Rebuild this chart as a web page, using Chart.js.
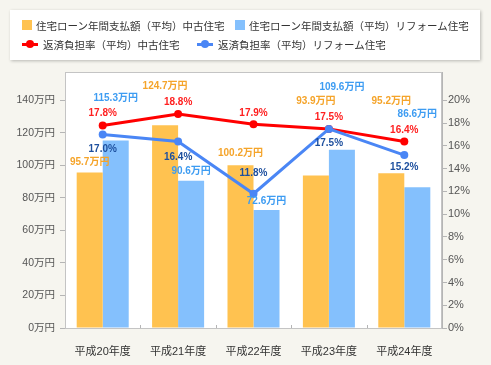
<!DOCTYPE html>
<html lang="ja">
<head>
<meta charset="utf-8">
<script src="https://cdn.jsdelivr.net/npm/chart.js@4"></script>
<style>
  html, body { margin: 0; padding: 0; background: #f6f5ef; }
  #wrap { position: relative; width: 491px; height: 365px; }
  #chart { position: absolute; left: 0; top: 0; }
  #legend {
    position: absolute; left: 10px; top: 10px; width: 470px; height: 50px;
    background: #fff; box-shadow: 1px 1px 3px rgba(0,0,0,.25);
    font: 10.5px "Noto Sans CJK JP", "Liberation Sans", sans-serif; color: #333;
  }
  #legend .it { position: absolute; display: flex; align-items: center; white-space: nowrap; }
  #legend .sq { width: 10px; height: 10px; margin-right: 4px; }
  #legend .ln { position: relative; width: 16px; height: 3px; margin-right: 5px; }
  #legend .ln i { position: absolute; left: 4px; top: -2.5px; width: 8px; height: 8px; border-radius: 50%; }
</style>
</head>
<body>
<div id="wrap">
  <canvas id="chart" width="491" height="365"></canvas>
  <div id="legend"></div>
</div>
<script>
const years = ["平成20年度", "平成21年度", "平成22年度", "平成23年度", "平成24年度"];
const loanUsed   = [95.7, 124.7, 100.2, 93.9, 95.2];   // 万円
const loanReform = [115.3, 90.6, 72.6, 109.6, 86.6];   // 万円
const rateUsed   = [17.8, 18.8, 17.9, 17.5, 16.4];     // %
const rateReform = [17.0, 16.4, 11.8, 17.5, 15.2];     // %
const yenTicks = [0, 20, 40, 60, 80, 100, 120, 140];
const pctTicks = [0, 2, 4, 6, 8, 10, 12, 14, 16, 18, 20];

// ラベルの縦位置ずらし（px, マイナスで上）
const offUsed   = [-10, -39, -12, -74, -72];
const offReform = [-42, -9, -9, -63, -73];
const offRateU  = [-12, -12, -11, -12, -11];
const offRateR  = [15, 16, -20, 14, 12];

const C_ORANGE = "#ffc250", C_BLUE = "#84c0fd", C_RED = "#ff0000", C_LINE = "#4a86f5";
const FONT = "'Liberation Sans', 'Noto Sans CJK JP', sans-serif";

const datasets = [
  { type: "line", label: "返済負担率（平均）リフォーム住宅", data: rateReform, yAxisID: "y1",
    borderColor: C_LINE, backgroundColor: C_LINE, borderWidth: 3, pointRadius: 4, pointBorderWidth: 0,
    order: 1, _lbl: { color: "#1d4f9e", off: offRateR, fmt: v => v.toFixed(1) + "%" } },
  { type: "line", label: "返済負担率（平均）中古住宅", data: rateUsed, yAxisID: "y1",
    borderColor: C_RED, backgroundColor: C_RED, borderWidth: 3, pointRadius: 4, pointBorderWidth: 0,
    order: 2, _lbl: { color: "#ff2020", off: offRateU, fmt: v => v.toFixed(1) + "%" } },
  { type: "bar", label: "住宅ローン年間支払額（平均）中古住宅", data: loanUsed, yAxisID: "y",
    backgroundColor: C_ORANGE, order: 3,
    _lbl: { color: "#f5a42a", off: offUsed, fmt: v => v.toFixed(1) + "万円" } },
  { type: "bar", label: "住宅ローン年間支払額（平均）リフォーム住宅", data: loanReform, yAxisID: "y",
    backgroundColor: C_BLUE, order: 4,
    _lbl: { color: "#3d9cf2", off: offReform, fmt: v => v.toFixed(1) + "万円" } }
];

// 凡例（HTML）
const legendItems = [
  { ds: datasets[2], x: 12, y: 15 }, { ds: datasets[3], x: 225, y: 15 },
  { ds: datasets[1], x: 12, y: 34 }, { ds: datasets[0], x: 187, y: 34 }
];
const lg = document.getElementById("legend");
legendItems.forEach(it => {
  const d = document.createElement("div");
  d.className = "it";
  d.style.left = it.x + "px"; d.style.top = (it.y - 8) + "px"; d.style.height = "16px";
  if (it.ds.type === "bar") {
    d.innerHTML = '<span class="sq" style="background:' + it.ds.backgroundColor + '"></span>';
  } else {
    d.innerHTML = '<span class="ln" style="background:' + it.ds.borderColor + '"><i style="background:' + it.ds.borderColor + '"></i></span>';
  }
  d.appendChild(document.createTextNode(it.ds.label));
  lg.appendChild(d);
});

const plotBg = {
  id: "plotBg",
  beforeDatasetsDraw(chart) {
    const { ctx, chartArea: a } = chart;
    ctx.save();
    ctx.fillStyle = "#fff";
    ctx.fillRect(a.left, a.top, a.right - a.left, a.bottom - a.top);
    ctx.strokeStyle = "#c4c4c4";
    ctx.lineWidth = 1;
    ctx.strokeRect(a.left + 0.5, a.top + 0.5, a.right - a.left - 1, a.bottom - a.top);
    // x軸の区切り目盛（内向き）
    const xs = chart.scales.x;
    ctx.strokeStyle = "#b5b5b5";
    for (let i = 0; i < years.length - 1; i++) {
      const px = Math.round((xs.getPixelForValue(i) + xs.getPixelForValue(i + 1)) / 2) + 0.5;
      ctx.beginPath();
      ctx.moveTo(px, a.bottom);
      ctx.lineTo(px, a.bottom - 3);
      ctx.stroke();
    }
    ctx.restore();
  }
};

const valueLabels = {
  id: "valueLabels",
  afterDatasetsDraw(chart) {
    const ctx = chart.ctx;
    ctx.save();
    ctx.font = "bold 10px " + FONT;
    ctx.textAlign = "center";
    ctx.textBaseline = "middle";
    chart.data.datasets.forEach((ds, di) => {
      const meta = chart.getDatasetMeta(di);
      meta.data.forEach((el, i) => {
        ctx.fillStyle = ds._lbl.color;
        ctx.fillText(ds._lbl.fmt(ds.data[i]), el.x, el.y + ds._lbl.off[i]);
      });
    });
    ctx.restore();
  }
};

new Chart(document.getElementById("chart"), {
  data: { labels: years, datasets },
  options: {
    responsive: false,
    animation: false,
    devicePixelRatio: 1,
    layout: { padding: { top: 72 } },
    datasets: { bar: { categoryPercentage: 0.69, barPercentage: 1 } },
    plugins: { legend: { display: false }, tooltip: { enabled: false } },
    scales: {
      x: {
        grid: { display: false },
        border: { color: "#b5b5b5" },
        ticks: { color: "#333", font: { size: 11, family: FONT }, padding: 9 },
        afterFit: s => { s.height = 37; }
      },
      y: {
        position: "left", min: 0, max: 157.5,
        grid: { drawOnChartArea: false, tickLength: 5, color: "#b5b5b5" },
        border: { color: "#b5b5b5" },
        ticks: { color: "#555", font: { size: 10.5, family: FONT }, padding: 5, callback: v => v + "万円" },
        afterBuildTicks: s => { s.ticks = yenTicks.map(v => ({ value: v })); },
        afterFit: s => { s.width = 65; }
      },
      y1: {
        position: "right", min: 0, max: 22.5,
        grid: { drawOnChartArea: false, tickLength: 5, color: "#b5b5b5" },
        border: { color: "#b5b5b5" },
        ticks: { color: "#555", font: { size: 11, family: FONT }, padding: 1, callback: v => v + "%" },
        afterBuildTicks: s => { s.ticks = pctTicks.map(v => ({ value: v })); },
        afterFit: s => { s.width = 49; }
      }
    }
  },
  plugins: [plotBg, valueLabels]
});
</script>
</body>
</html>
